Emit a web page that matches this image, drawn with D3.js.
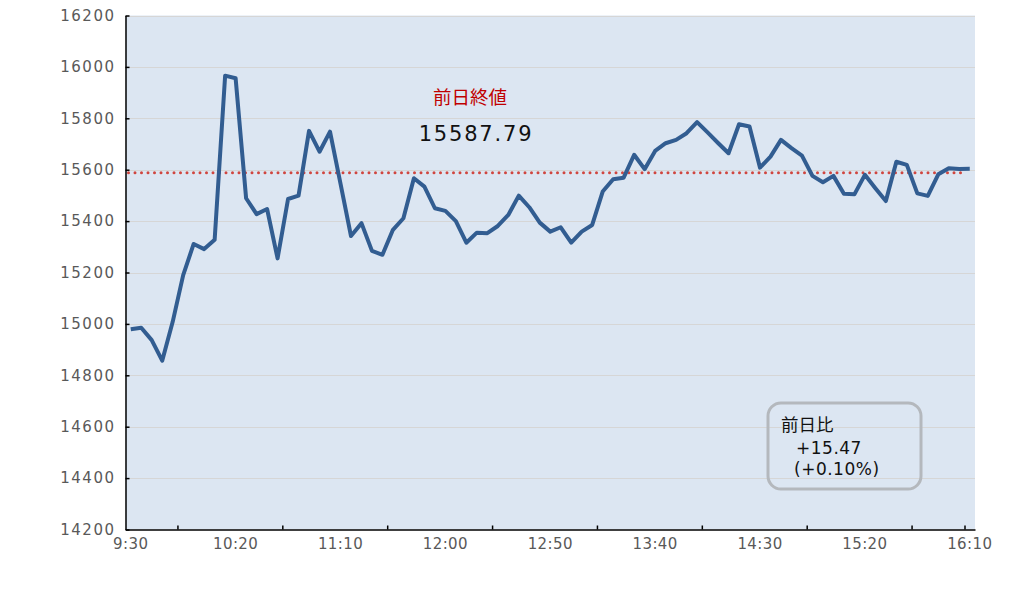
<!DOCTYPE html>
<html>
<head>
<meta charset="utf-8">
<script src="https://cdn.jsdelivr.net/npm/d3@7"></script>
<style>
  body { margin: 0; background: #fff; }
  svg text { font-family: "DejaVu Sans", "Noto Sans CJK JP", sans-serif; }
</style>
</head>
<body>
<svg id="chart" width="1036" height="598"></svg>
<script>
// 5-minute bars
const times = [
  "9:30","9:35","9:40","9:45","9:50","9:55","10:00","10:05","10:10","10:15",
  "10:20","10:25","10:30","10:35","10:40","10:45","10:50","10:55","11:00","11:05",
  "11:10","11:15","11:20","11:25","11:30","11:35","11:40","11:45","11:50","11:55",
  "12:00","12:05","12:10","12:15","12:20","12:25","12:30","12:35","12:40","12:45",
  "12:50","12:55","13:00","13:05","13:10","13:15","13:20","13:25","13:30","13:35",
  "13:40","13:45","13:50","13:55","14:00","14:05","14:10","14:15","14:20","14:25",
  "14:30","14:35","14:40","14:45","14:50","14:55","15:00","15:05","15:10","15:15",
  "15:20","15:25","15:30","15:35","15:40","15:45","15:50","15:55","16:00","16:05",
  "16:10"
];
const prices = [
  14979, 14985, 14937, 14857, 15008, 15190, 15311, 15291, 15327, 15966,
  15956, 15489, 15427, 15447, 15255, 15486, 15499, 15751, 15670, 15748,
  15546, 15342, 15392, 15284, 15269, 15366, 15411, 15567, 15534, 15450,
  15440, 15400, 15316, 15355, 15353, 15381, 15424, 15499, 15454, 15394,
  15359, 15376, 15316, 15359, 15385, 15515, 15563, 15569, 15658, 15602,
  15673, 15703, 15716, 15742, 15785, 15745, 15704, 15664, 15777, 15768,
  15608, 15651, 15716, 15684, 15655, 15576, 15551, 15576, 15506, 15504,
  15580, 15528, 15478, 15631, 15619, 15508, 15498, 15582, 15606, 15603,
  15603.26
];
const prevClose = 15587.79;
const change = "+15.47";
const changePct = "(+0.10%)";
const yTicks = [14200, 14400, 14600, 14800, 15000, 15200, 15400, 15600, 15800, 16000, 16200];
const xTickLabels = ["9:30","10:20","11:10","12:00","12:50","13:40","14:30","15:20","16:10"];
// tick marks sit on category edges in the original
const xTickMarkIdx = [5, 15, 25, 35, 45, 55, 65, 75, 81];

const m = { left: 125.5, right: 975, top: 15.5, bottom: 529.5 };
const svg = d3.select('#chart');

const x = d3.scaleBand().domain(times).range([m.left, m.right]).padding(0);
const cx = (t) => x(t) + x.bandwidth() / 2;
const y = d3.scaleLinear().domain([14200, 16200]).range([m.bottom, m.top]);

// plot area
svg.append('rect')
  .attr('x', m.left).attr('y', m.top)
  .attr('width', m.right - m.left).attr('height', m.bottom - m.top)
  .attr('fill', '#dce6f2');

// gridlines
svg.append('g')
  .selectAll('line')
  .data(yTicks.slice(1))
  .join('line')
  .attr('x1', m.left).attr('x2', m.right)
  .attr('y1', d => Math.round(y(d)) + 0.5).attr('y2', d => Math.round(y(d)) + 0.5)
  .attr('stroke', '#d6d6d6').attr('stroke-width', 1.2);

// previous close (dotted)
svg.append('line')
  .attr('x1', m.left + 3).attr('x2', 965)
  .attr('y1', y(prevClose)).attr('y2', y(prevClose))
  .attr('stroke', '#d0463f').attr('stroke-width', 3)
  .attr('stroke-linecap', 'round')
  .attr('stroke-dasharray', '0,6.5');

// price line
const line = d3.line()
  .x((d, i) => cx(times[i]))
  .y(d => y(d));
svg.append('path')
  .datum(prices)
  .attr('d', line)
  .attr('fill', 'none')
  .attr('stroke', '#325d91')
  .attr('stroke-width', 4)
  .attr('stroke-linejoin', 'round');

// y axis
const yAxis = svg.append('g')
  .attr('transform', `translate(${m.left},0)`)
  .call(d3.axisLeft(y).tickValues(yTicks).tickSizeInner(-4).tickSizeOuter(0).tickPadding(10).tickFormat(d3.format('d')));
yAxis.select('.domain').attr('stroke', '#000').attr('stroke-width', 1.5);
yAxis.selectAll('.tick line').attr('stroke', '#000').attr('stroke-width', 1.5);
yAxis.selectAll('.tick text').attr('font-size', 15).attr('fill', '#595959').attr('letter-spacing', 1.5);

// x axis labels
const xAxis = svg.append('g')
  .attr('transform', `translate(0,${m.bottom})`)
  .call(d3.axisBottom(x).tickValues(xTickLabels).tickSize(0).tickPadding(9));
xAxis.select('.domain').attr('stroke', '#000').attr('stroke-width', 1.5);
xAxis.selectAll('.tick text').attr('font-size', 15).attr('fill', '#595959').attr('letter-spacing', 0.4);

// x tick marks
svg.append('g')
  .selectAll('line')
  .data(xTickMarkIdx)
  .join('line')
  .attr('x1', i => i < times.length ? x(times[i]) : m.right - 10)
  .attr('x2', i => i < times.length ? x(times[i]) : m.right - 10)
  .attr('y1', m.bottom).attr('y2', m.bottom - 4)
  .attr('stroke', '#000').attr('stroke-width', 1.5);

// prev close label
svg.append('text')
  .attr('x', 470).attr('y', 104)
  .attr('text-anchor', 'middle')
  .attr('font-family', '"Noto Sans CJK JP"')
  .attr('font-size', 18.5).attr('fill', '#c00000')
  .text('前日終値');
svg.append('text')
  .attr('x', 476).attr('y', 141)
  .attr('text-anchor', 'middle')
  .attr('font-size', 21).attr('fill', '#111')
  .attr('letter-spacing', 1.8)
  .text(d3.format('.2f')(prevClose));

// change box
svg.append('rect')
  .attr('x', 768).attr('y', 403)
  .attr('width', 153).attr('height', 86)
  .attr('rx', 13)
  .attr('fill', 'none')
  .attr('stroke', '#b4b8bd').attr('stroke-width', 3);
svg.append('text')
  .attr('x', 781).attr('y', 431)
  .attr('font-family', '"Noto Sans CJK JP"')
  .attr('font-size', 17.5).attr('fill', '#111')
  .text('前日比');
svg.append('text')
  .attr('x', 796).attr('y', 454)
  .attr('font-size', 17).attr('fill', '#111')
  .attr('letter-spacing', 0.5)
  .text(change);
svg.append('text')
  .attr('x', 794).attr('y', 475)
  .attr('font-size', 17).attr('fill', '#111')
  .attr('letter-spacing', 0.5)
  .text(changePct);
</script>
</body>
</html>
